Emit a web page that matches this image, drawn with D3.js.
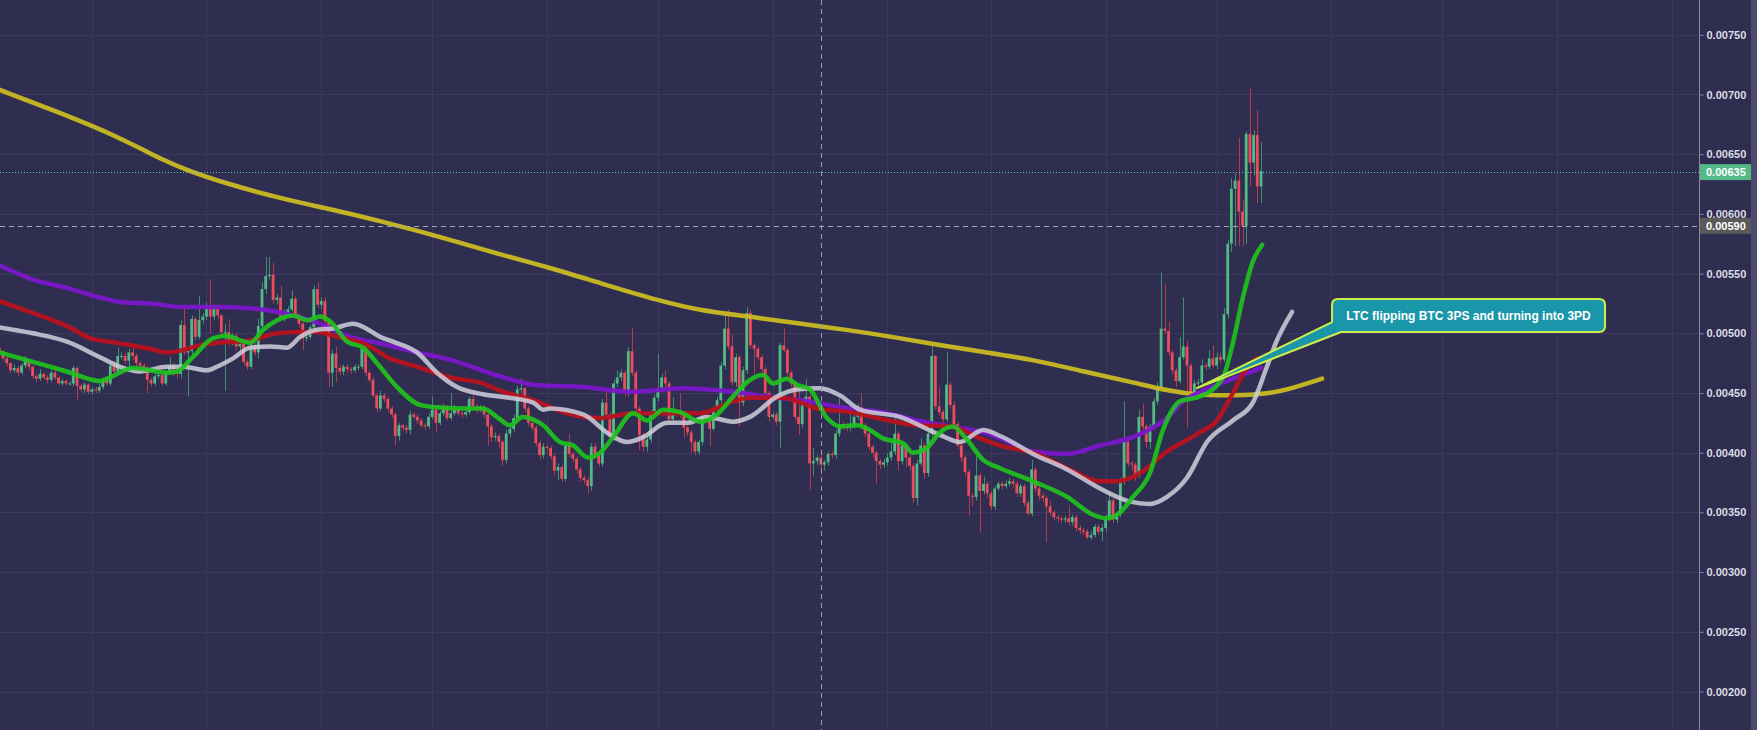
<!DOCTYPE html>
<html><head><meta charset="utf-8">
<script src="https://cdn.jsdelivr.net/npm/d3@7"></script>
<style>html,body{margin:0;padding:0;background:#2f2e50;overflow:hidden}</style>
</head><body>
<svg id="chart" width="1757" height="730"></svg>
<script>
// ---------------- DATA (prices in units of 0.00001 BTC) ----------------
const PRICE_UNIT = 1e-5;
const startDate = "2018-06-06"; // first visible daily candle

const openP = [
488,484,479,475,469,471,467,473,477,472, 464,462,466,463,461,467,463,458,460,458,
458,471,456,453,457,451,453,452,455,462, 458,473,468,481,481,477,484,481,475,473,
471,461,458,464,465,458,467,473,468,466, 507,484,485,512,497,511,514,523,514,522,
515,501,501,493,498,489,491,476,472,489, 484,506,537,548,549,528,530,514,517,520,
529,515,508,496,497,505,537,524,527,510, 467,483,471,468,472,470,469,472,472,488,
467,461,448,437,448,445,437,432,414,423, 421,419,432,430,427,423,422,430,436,425,
433,438,429,433,437,433,432,434,445,439, 436,438,432,422,413,414,409,394,416,420,
429,453,454,437,425,421,408,398,405,404, 397,385,388,378,406,399,395,386,379,377,
372,405,398,391,442,432,413,458,463,467, 450,485,467,437,415,405,411,434,446,454,
463,458,428,434,433,432,421,417,409,401, 409,430,429,420,437,444,473,504,489,459,
480,442,469,517,490,487,480,470,450,430, 432,426,490,486,467,458,430,424,442,447,
391,393,396,390,392,399,398,416,424,422, 421,423,430,438,423,416,405,400,393,390,
392,396,401,416,393,406,396,389,362,391, 406,383,416,481,439,434,428,457,440,424,
406,396,384,364,363,381,368,374,366,355, 370,374,372,374,376,374,366,372,358,349,
386,370,364,362,355,350,346,345,344,345, 342,346,337,335,334,329,331,338,334,337,
345,360,344,349,376,409,391,390,381,430, 422,409,422,443,454,504,502,484,469,460,
480,489,473,450,458,459,473,472,479,473, 480,478,516,575,621,628,602,590,667,643,
666,623];

const closeP = [
484,479,475,469,471,467,473,477,472,464, 462,466,463,461,467,463,458,460,458,458,
471,456,453,457,451,453,452,455,462,458, 473,468,481,481,477,484,481,475,473,471,
461,458,464,465,458,467,473,468,466,507, 484,485,512,497,511,514,523,514,522,515,
501,501,493,498,489,491,476,472,489,484, 506,537,548,549,528,530,514,517,520,529,
515,508,496,497,505,537,524,527,510,467, 483,471,468,472,470,469,472,472,488,467,
461,448,437,448,445,437,432,414,423,421, 419,432,430,427,423,422,430,436,425,433,
438,429,433,437,433,432,434,445,439,436, 438,432,422,413,414,409,394,416,420,429,
453,454,437,425,421,408,398,405,404,397, 385,388,378,406,399,395,386,379,377,372,
405,398,391,442,432,413,458,463,467,450, 485,467,437,415,405,411,434,446,454,463,
458,428,434,433,432,421,417,409,401,409, 430,429,420,437,444,473,504,489,459,480,
442,469,517,490,487,480,470,450,430,432, 426,490,486,467,458,430,424,442,447,391,
393,396,390,392,399,398,416,424,422,421, 423,430,438,423,416,405,400,393,390,392,
396,401,416,393,406,396,389,362,391,406, 383,416,481,439,434,428,457,440,424,406,
396,384,364,363,381,368,374,366,355,370, 374,372,374,376,374,366,372,358,349,386,
370,364,362,355,350,346,345,344,345,342, 346,337,335,334,329,331,338,334,337,345,
360,344,349,376,409,391,390,381,430,422, 409,422,443,454,504,502,484,469,460,480,
489,473,450,458,459,473,472,479,473,480, 478,516,575,621,628,602,590,667,643,666,
623,636];

const highP = [
490,486,481,476,474,473,475,481,478,473, 466,470,467,465,469,469,464,462,461,460,
473,472,458,459,458,455,455,458,463,464, 475,477,488,484,484,487,491,483,477,475,
473,463,466,467,467,469,480,475,470,511, 521,487,515,514,531,517,526,545,524,525,
516,508,512,500,500,494,493,478,491,492, 512,543,564,564,559,533,540,520,523,536,
531,517,510,500,507,540,543,530,530,512, 486,489,474,474,474,472,474,474,490,490,
469,463,450,452,450,447,439,434,425,424, 423,435,434,432,429,425,433,447,438,435,
441,440,450,440,439,435,436,447,448,441, 440,440,433,424,417,416,411,419,423,432,
456,462,455,439,427,423,410,408,407,406, 399,391,390,409,416,401,397,388,381,379,
408,408,400,445,453,434,461,469,470,469, 488,505,469,439,417,413,436,449,483,466,
469,460,446,436,450,434,423,419,411,411, 432,433,431,439,447,476,515,520,499,483,
482,472,522,520,492,489,482,472,452,434, 434,492,504,488,469,460,455,445,462,449,
404,398,398,394,401,401,419,446,426,424, 441,432,441,450,425,418,407,402,395,395,
399,409,429,418,409,408,398,391,394,412, 408,418,490,482,455,436,484,459,443,426,
408,398,386,366,397,383,380,376,368,372, 376,376,377,379,378,376,374,374,360,394,
388,372,366,364,360,352,348,347,347,356, 348,348,339,337,336,334,340,340,340,348,
367,362,351,379,443,414,393,392,436,441, 424,424,446,459,551,541,510,486,471,497,
530,494,475,461,462,478,475,486,490,484, 484,521,578,630,634,664,612,669,705,670,
687,660];

const lowP = [
481,477,472,466,467,464,465,471,469,462, 459,460,461,458,459,461,456,456,456,456,
456,444,451,450,449,449,450,450,453,456, 456,466,466,478,474,472,478,470,470,468,
450,455,456,462,456,456,465,464,462,462, 482,447,482,494,495,508,511,500,511,512,
497,452,490,490,486,486,473,469,470,481, 479,504,533,545,525,524,512,510,514,518,
512,505,486,493,495,502,521,520,507,455, 455,459,465,465,467,466,467,469,470,464,
459,446,434,435,442,434,429,406,410,418, 416,415,428,424,421,419,420,428,417,423,
431,427,427,431,431,429,430,432,437,433, 434,429,406,409,410,404,389,391,413,417,
427,450,434,422,418,405,394,395,401,394, 381,377,375,376,396,392,383,376,374,365,
368,395,388,388,429,410,410,455,460,447, 447,464,434,402,401,401,408,431,443,451,
455,425,426,430,429,412,414,400,398,398, 406,427,405,418,435,441,470,486,456,455,
422,439,466,487,466,477,467,447,426,428, 423,404,484,464,455,427,415,421,439,369,
381,390,381,385,389,395,395,413,419,418, 418,420,427,420,413,402,396,374,386,387,
389,393,398,385,390,388,385,358,356,389, 378,380,413,436,431,425,426,437,421,403,
392,380,347,355,360,333,365,362,352,352, 368,369,370,372,371,363,363,355,347,347,
367,360,359,325,347,343,342,341,341,339, 339,334,332,331,327,327,329,331,326,334,
343,341,341,346,373,388,385,376,379,419, 404,403,419,440,452,500,481,465,455,458,
478,421,445,447,455,456,469,470,471,470, 475,476,512,568,573,573,573,575,623,632,
609,609];

// Moving averages: [day index from startDate, price in 0.00001 BTC]
const maYellow = [[0,704],[15.3,686],[30.5,667],[41,650],[50.2,637],[60.7,626],[75.9,613],[88,605],[103.2,594],[121.3,579],[135.3,566],[148.8,555],[162.4,542],[178.6,527],[189.4,519],[202.9,514],[216.4,508],[229.1,503],[243.4,496],[254.2,490],[266.9,484],[279.4,478],[292.9,468],[306.4,459],[315.6,452],[324.5,448],[333.4,448],[343.4,449],[351.5,456],[357.5,462]];
const maPurple = [[0,557],[9.1,545],[18.3,538],[27.2,530],[33.4,526],[40.7,525],[49.6,522],[58.8,522],[67.8,521],[76.7,517],[85.9,509],[94.8,497],[103.7,491],[112.9,484],[121.8,478],[135.3,464],[144.3,457],[157.8,455],[171.3,451],[184.8,454],[198.3,451],[207.5,447],[216.4,444],[229.9,437],[238.8,434],[248,427],[256.9,422],[265.9,417],[270.5,412],[279.4,401],[288.6,399],[297.5,406],[306.4,413],[311.8,421],[315.6,429],[319.9,443],[324.5,451],[332.6,461],[341,471]];
const maRed = [[0,527],[9.1,517],[18.3,506],[24.5,496],[31.8,492],[40.7,487],[45.3,484],[49.6,486],[54.2,490],[58.8,492],[67.8,494],[75.1,500],[81.3,501],[85.9,501],[90.2,498],[99.4,490],[105.6,479],[112.9,472],[121.8,463],[130.7,458],[135.3,452],[144.3,444],[153.4,433],[162.4,429],[171.3,433],[180.5,433],[189.4,433],[198.3,443],[202.9,446],[211.8,446],[221,437],[229.9,434],[238.8,428],[248,423],[256.9,422],[265.9,411],[270.5,406],[279.4,400],[288.6,387],[297.5,376],[302.1,376],[308.3,383],[315.6,401],[324.5,417],[329.1,427],[333.4,450],[337.2,471],[339.9,479]];
const maWhite = [[0,505],[9.1,500],[18.3,493],[27.2,480],[33.4,471],[38,468],[45.3,472],[49.6,472],[56.1,469],[58.8,472],[63.2,479],[67.8,488],[73.2,489],[77.8,488],[81.3,497],[85.9,503],[90.2,504],[95.6,508],[103.7,496],[106.4,493],[112.9,484],[118.3,467],[123.7,455],[130.7,449],[135.3,447],[144.3,442],[147,436],[148.8,437],[157.8,432],[165.1,415],[169.6,409],[174,413],[180.5,425],[185.9,425],[191.3,430],[198.3,426],[202.9,430],[210.2,447],[215.6,453],[221.8,454],[227.2,448],[232.6,436],[243.4,430],[254.2,415],[259.6,409],[265.9,419],[270.5,414],[279.4,399],[288.6,386],[297.5,370],[305.6,359],[311,357],[315.6,363],[321,379],[326.4,409],[333.4,427],[338.8,442],[342.6,472],[345.3,494],[349.4,518]];
const maGreen = [[0,484],[9.1,476],[18.3,468],[27.2,460],[29.9,463],[36.1,471],[45.3,467],[48,468],[52.3,480],[57.8,496],[61.5,498],[65.1,494],[67.8,492],[71.3,503],[75.1,511],[79.4,515],[83.2,511],[86.7,514],[89.4,510],[94,493],[98.3,488],[102.1,475],[107.5,455],[113.7,440],[118.3,438],[126.4,437],[130.7,437],[135.3,428],[138,423],[141.5,430],[147,423],[151.5,409],[155.1,406],[159.1,396],[162.4,400],[165.9,413],[171.3,433],[175.1,427],[179.4,436],[184,434],[189.4,426],[194,432],[198.3,447],[202.9,461],[206.4,465],[209.1,458],[212.9,462],[215.6,457],[219.1,453],[223.7,429],[227.2,422],[231.8,423],[235.3,419],[238.8,412],[244.2,408],[246.9,400],[250.7,404],[254.2,417],[257.8,422],[261.5,411],[265.9,394],[270.5,387],[279.4,376],[288.6,363],[295.6,348],[299.4,345],[302.9,350],[306.4,363],[311,383],[314.5,419],[319.1,443],[324.5,447],[330.7,463],[333.4,492],[336.1,530],[338.8,560],[341.3,574]];

const priceTicks = [0.0020,0.0025,0.0030,0.0035,0.0040,0.0045,0.0050,0.0055,0.0060,0.0065,0.0070,0.0075];
const lastPrice = 0.00635;
const crosshairPrice = 0.00590;
const crosshairDay = 222;
const noteText = "LTC flipping BTC 3PS and turning into 3PD";
const noteTip = {day: 323.7, price: 0.004541};
const noteBox = {day: 360.2, price: 0.005287};

// ---------------- CHART ----------------
const W = 1757, H = 730, PLOT_R = 1699;
const t0 = Date.parse(startDate + "T00:00:00Z");
const dayToDate = i => new Date(t0 + i * 864e5);
const nC = closeP.length;
const candles = d3.range(nC).map(i => ({
  date: dayToDate(i),
  o: openP[i] * PRICE_UNIT, h: highP[i] * PRICE_UNIT,
  l: lowP[i] * PRICE_UNIT, c: closeP[i] * PRICE_UNIT
}));

const x = d3.scaleUtc().domain([dayToDate(0), dayToDate(nC - 1)]).range([-0.7, 1261]);
const y = d3.scaleLinear().domain([0.0020, 0.0075]).range([691.5, 34.8]);

const svg = d3.select("#chart");
const FONT = "'Liberation Sans', Arial, sans-serif";

svg.append("rect").attr("width", W).attr("height", H).attr("fill", "#2f2e50");

const defs = svg.append("defs");
defs.append("clipPath").attr("id", "plotClip").append("rect")
  .attr("x", 0).attr("y", 0).attr("width", PLOT_R).attr("height", H);

const plot = svg.append("g").attr("clip-path", "url(#plotClip)");

// grid
const gridColor = "#3b3a5c";
const months = d3.utcMonth.range(dayToDate(-40), dayToDate(480));
plot.append("g").selectAll("line").data(months).join("line")
  .attr("x1", d => Math.round(x(d)) + 0.5).attr("x2", d => Math.round(x(d)) + 0.5)
  .attr("y1", 0).attr("y2", H).attr("stroke", gridColor).attr("stroke-width", 1);
plot.append("g").selectAll("line").data(priceTicks).join("line")
  .attr("x1", 0).attr("x2", PLOT_R)
  .attr("y1", d => Math.round(y(d)) + 0.5).attr("y2", d => Math.round(y(d)) + 0.5)
  .attr("stroke", gridColor).attr("stroke-width", 1);

// candles
const UP = "#53b987", DOWN = "#eb4d5c";
const cg = plot.append("g");
cg.selectAll("line.wick").data(candles).join("line").attr("class", "wick")
  .attr("x1", d => Math.round(x(d.date)) + 0.5).attr("x2", d => Math.round(x(d.date)) + 0.5)
  .attr("y1", d => y(d.h)).attr("y2", d => y(d.l))
  .attr("stroke", d => d.c >= d.o ? "#3f8f6c" : "#b23a4a").attr("stroke-width", 1);
cg.selectAll("rect.body").data(candles).join("rect").attr("class", "body")
  .attr("x", d => x(d.date) - 1.4).attr("width", 2.8)
  .attr("y", d => y(Math.max(d.o, d.c)))
  .attr("height", d => Math.max(1, Math.abs(y(d.o) - y(d.c))))
  .attr("fill", d => d.c >= d.o ? UP : DOWN);

// moving averages
const lineSmooth = d3.line().x(d => x(dayToDate(d[0]))).y(d => y(d[1] * PRICE_UNIT)).curve(d3.curveBasis);
const lineMono = d3.line().x(d => x(dayToDate(d[0]))).y(d => y(d[1] * PRICE_UNIT)).curve(d3.curveMonotoneX);
const maDefs = [
  {data: maYellow, color: "#c9ba22", op: 0.95, gen: lineSmooth},
  {data: maPurple, color: "#7a17c9", op: 0.95, gen: lineMono},
  {data: maRed, color: "#b8121f", op: 0.95, gen: lineMono},
  {data: maWhite, color: "#cfcfdc", op: 0.85, gen: lineMono},
  {data: maGreen, color: "#1ec21e", op: 0.92, gen: lineMono}
];
plot.append("g").selectAll("path").data(maDefs).join("path")
  .attr("d", d => d.gen(d.data)).attr("fill", "none")
  .attr("stroke", d => d.color).attr("stroke-opacity", d => d.op)
  .attr("stroke-width", 4.5).attr("stroke-linejoin", "round").attr("stroke-linecap", "round");

// crosshair & last price line
const cx = Math.round(x(dayToDate(crosshairDay))) + 0.5;
plot.append("line").attr("x1", cx).attr("x2", cx).attr("y1", 0).attr("y2", H)
  .attr("stroke", "#9c9cae").attr("stroke-dasharray", "5,4").attr("stroke-width", 1);
const cy = Math.round(y(crosshairPrice)) + 0.5;
plot.append("line").attr("x1", 0).attr("x2", PLOT_R).attr("y1", cy).attr("y2", cy)
  .attr("stroke", "#a4a4b4").attr("stroke-dasharray", "5,4").attr("stroke-width", 1);
const ly = Math.round(y(lastPrice)) + 0.5;
plot.append("line").attr("x1", 0).attr("x2", PLOT_R).attr("y1", ly).attr("y2", ly)
  .attr("stroke", "#5fcbb5").attr("stroke-dasharray", "1,2").attr("stroke-width", 1);

// annotation callout
const tipX = x(dayToDate(noteTip.day)), tipY = y(noteTip.price);
const bx = x(dayToDate(noteBox.day)), by = y(noteBox.price);
const bw = 273, bh = 33, r = 6;
const calloutPath = `M${bx + r},${by} H${bx + bw - r} Q${bx + bw},${by} ${bx + bw},${by + r} V${by + bh - r} Q${bx + bw},${by + bh} ${bx + bw - r},${by + bh} H${bx + 9} L${tipX},${tipY} L${bx},${by + bh - 10} V${by + r} Q${bx},${by} ${bx + r},${by} Z`;
plot.append("path").attr("d", calloutPath).attr("fill", "#1996a9")
  .attr("stroke", "#cdee48").attr("stroke-width", 2).attr("stroke-linejoin", "round");
plot.append("text").attr("x", bx + bw / 2).attr("y", by + bh / 2 + 4.5)
  .attr("text-anchor", "middle").attr("fill", "#ffffff")
  .attr("font-family", FONT).attr("font-size", 12).attr("font-weight", "bold").text(noteText);

// right axis
svg.append("rect").attr("x", PLOT_R).attr("y", 0).attr("width", W - PLOT_R).attr("height", H).attr("fill", "#2f2e50");
const axis = d3.axisRight(y).tickValues(priceTicks).tickFormat(d3.format(".5f")).tickSize(4).tickPadding(3);
const ag = svg.append("g").attr("transform", `translate(${PLOT_R + 0.5},0)`).call(axis);
ag.select(".domain").remove();
ag.selectAll(".tick line").attr("stroke", "#8a8a9c");
ag.selectAll(".tick text").attr("fill", "#dcdde5").attr("font-family", FONT)
  .attr("font-size", 11).attr("font-weight", "bold");
svg.append("line").attr("x1", PLOT_R + 0.5).attr("x2", PLOT_R + 0.5).attr("y1", 0).attr("y2", H)
  .attr("stroke", "#8a8a9c").attr("stroke-width", 1);

function priceTag(price, fill) {
  const yy = y(price);
  svg.append("rect").attr("x", PLOT_R + 1).attr("y", yy - 8).attr("width", 51).attr("height", 16).attr("fill", fill);
  svg.append("text").attr("x", PLOT_R + 7).attr("y", yy + 4).attr("fill", "#ffffff")
    .attr("font-family", FONT).attr("font-size", 11).attr("font-weight", "bold").text(d3.format(".5f")(price));
}
priceTag(lastPrice, "#53b987");
priceTag(crosshairPrice, "#5a5a5a");

svg.append("rect").attr("x", 1751).attr("y", 0).attr("width", 6).attr("height", H).attr("fill", "#4d4c70");
</script>
</body></html>
